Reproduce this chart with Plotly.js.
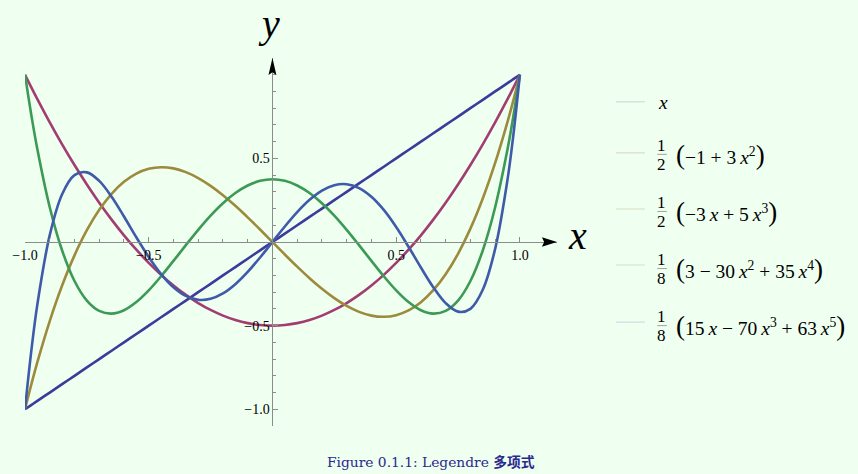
<!DOCTYPE html>
<html>
<head>
<meta charset="utf-8">
<script src="https://cdn.plot.ly/plotly-3.0.1.min.js"></script>
<style>html,body{margin:0;padding:0;background:#effff0;}#chart{width:858px;height:474px;}</style>
</head>
<body>
<div id="chart"></div>
<script>
// ---- data ----
var xs = [-1,-0.975,-0.95,-0.9,-0.85,-0.8,-0.75,-0.7,-0.65,-0.6,-0.55,-0.5,-0.45,-0.4,-0.35,-0.3,-0.25,-0.2,-0.15,-0.1,-0.05,0,0.05,0.1,0.15,0.2,0.25,0.3,0.35,0.4,0.45,0.5,0.55,0.6,0.65,0.7,0.75,0.8,0.85,0.9,0.95,0.975,1];
var p1 = [-1,-0.975,-0.95,-0.9,-0.85,-0.8,-0.75,-0.7,-0.65,-0.6,-0.55,-0.5,-0.45,-0.4,-0.35,-0.3,-0.25,-0.2,-0.15,-0.1,-0.05,0,0.05,0.1,0.15,0.2,0.25,0.3,0.35,0.4,0.45,0.5,0.55,0.6,0.65,0.7,0.75,0.8,0.85,0.9,0.95,0.975,1];
var p2 = [1,0.9259,0.8538,0.715,0.5838,0.46,0.3438,0.235,0.1338,0.04,-0.0463,-0.125,-0.1963,-0.26,-0.3163,-0.365,-0.4063,-0.44,-0.4663,-0.485,-0.4963,-0.5,-0.4963,-0.485,-0.4663,-0.44,-0.4063,-0.365,-0.3163,-0.26,-0.1963,-0.125,-0.0463,0.04,0.1338,0.235,0.3438,0.46,0.5838,0.715,0.8538,0.9259,1];
var p3 = [-1,-0.8547,-0.7184,-0.4725,-0.2603,-0.08,0.0703,0.1925,0.2884,0.36,0.4091,0.4375,0.4472,0.44,0.4178,0.3825,0.3359,0.28,0.2166,0.1475,0.0747,0,-0.0747,-0.1475,-0.2166,-0.28,-0.3359,-0.3825,-0.4178,-0.44,-0.4472,-0.4375,-0.4091,-0.36,-0.2884,-0.1925,-0.0703,0.08,0.2603,0.4725,0.7184,0.8547,1];
var p4 = [1,0.764,0.5541,0.2079,-0.0506,-0.233,-0.3501,-0.4121,-0.4284,-0.408,-0.359,-0.2891,-0.205,-0.113,-0.0187,0.0729,0.1577,0.232,0.2928,0.3379,0.3657,0.375,0.3657,0.3379,0.2928,0.232,0.1577,0.0729,-0.0187,-0.113,-0.205,-0.2891,-0.359,-0.408,-0.4284,-0.4121,-0.3501,-0.233,-0.0506,0.2079,0.5541,0.764,1];
var p5 = [-1,-0.6568,-0.3727,0.0411,0.2857,0.3995,0.4164,0.3652,0.2705,0.1526,0.0282,-0.0898,-0.1917,-0.2706,-0.3225,-0.3454,-0.3397,-0.3075,-0.2523,-0.1788,-0.0927,0,0.0927,0.1788,0.2523,0.3075,0.3397,0.3454,0.3225,0.2706,0.1917,0.0898,-0.0282,-0.1526,-0.2705,-0.3652,-0.4164,-0.3995,-0.2857,-0.0411,0.3727,0.6568,1];
var series = [p1, p2, p3, p4, p5];
var colors = ['#3b3b9b', '#a23d72', '#9c8b3c', '#3c9a56', '#3e5aa8'];
var swatchColors = ['#d9e2da', '#dfe0d4', '#e0e8cf', '#d5ecdb', '#d6e2e4'];
var fracDen = [null, '2', '2', '8', '8'];
var legendTexts = [
  '<i>x</i>',
  '(−1 + 3\u2009<i>x</i><sup>2</sup>)',
  '(−3\u2009<i>x</i> + 5\u2009<i>x</i><sup>3</sup>)',
  '(3 − 30\u2009<i>x</i><sup>2</sup> + 35\u2009<i>x</i><sup>4</sup>)',
  '(15\u2009<i>x</i> − 70\u2009<i>x</i><sup>3</sup> + 63\u2009<i>x</i><sup>5</sup>)'
];
var xTickVals = [-1, -0.5, 0.5, 1];
var xTickText = ['−1.0', '−0.5', '0.5', '1.0'];
var yTickVals = [-1, -0.5, 0.5];
var yTickText = ['−1.0', '−0.5', '0.5'];
var caption = 'Figure 0.1.1: Legendre <span style="font-family:\'Noto Sans CJK SC\';font-weight:bold">多项式</span>';

// ---- geometry ----
var W = 858, H = 474;
var L = 25, R = 557.125, T = 58.3, B = 425.7;
var XR = [-1, 1.15], YR = [-1.1, 1.1];
function PX(px) { return (px - L) / (R - L); }
function PY(py) { return (B - py) / (B - T); }
var serif = '"Liberation Serif", serif';

var traces = series.map(function (s, i) {
  return {x: xs, y: s, type: 'scatter', mode: 'lines', cliponaxis: false,
    line: {color: colors[i], width: 2.6, shape: 'spline', smoothing: 1},
    hoverinfo: 'skip', showlegend: false};
});

function ann(text, px, py, size, extra) {
  var a = {text: text, x: PX(px), y: PY(py), xref: 'paper', yref: 'paper', showarrow: false,
    xanchor: 'center', yanchor: 'middle', font: {family: serif, size: size, color: '#000'}};
  return Object.assign(a, extra || {});
}

var annotations = [
  ann('<i>y</i>', 269, 24, 40),
  ann('<i>x</i>', 578, 236, 40),
  ann(caption, 431, 461, 14, {font: {family: '"DejaVu Serif", serif', size: 13.8, color: '#2a2a8e'}})
];
var shapes = [
  // arrowheads of the axes
  {type: 'path', xref: 'x', yref: 'y', path: 'M 1.15 0 L 1.089 0.028 L 1.098 0 L 1.089 -0.028 Z',
   fillcolor: '#000', line: {width: 0}},
  {type: 'path', xref: 'x', yref: 'y', path: 'M 0 1.1 L 0.016 0.998 L 0 1.015 L -0.016 0.998 Z',
   fillcolor: '#000', line: {width: 0}}
];
var rowCenters = [103, 155, 212, 269, 326];
var swatchY = [102, 153, 209, 265, 322];
legendTexts.forEach(function (t, i) {
  var cy = rowCenters[i];
  shapes.push({type: 'line', xref: 'paper', yref: 'paper', x0: PX(616), x1: PX(645), y0: PY(swatchY[i]), y1: PY(swatchY[i]),
    line: {color: swatchColors[i], width: 1.5}});
  if (fracDen[i]) {
    annotations.push(ann('1', 662, cy - 9.5, 17));
    annotations.push(ann(fracDen[i], 662, cy + 9.5, 17));
    shapes.push({type: 'line', xref: 'paper', yref: 'paper', x0: PX(657.5), x1: PX(667), y0: PY(cy - 0.5), y1: PY(cy - 0.5),
      line: {color: '#8a8a8a', width: 0.8}});
    var txt = t.replace(/^\(/, '<span style="font-size:27px">(</span>').replace(/\)$/, '<span style="font-size:27px">)</span>');
    annotations.push(ann(txt, 674, cy, 19.5, {xanchor: 'left'}));
  } else {
    annotations.push(ann(t, 656, cy, 19.5, {xanchor: 'left'}));
  }
});

var axisCommon = {showgrid: false, zeroline: false, showline: true, linecolor: '#8c8c8c', linewidth: 1,
  ticks: 'inside', tickcolor: '#8c8c8c', ticklen: 5, tickwidth: 1, tickmode: 'array',
  tickfont: {family: serif, size: 14, color: '#000'}, anchor: 'free', fixedrange: true,
  minor: {ticks: 'inside', tick0: 0, dtick: 0.1, ticklen: 3, tickcolor: '#8c8c8c', tickwidth: 1, showgrid: false}};

var layout = {
  width: W, height: H,
  margin: {l: L, r: W - R, t: T, b: H - B, pad: 0},
  paper_bgcolor: '#effff0', plot_bgcolor: '#effff0',
  xaxis: Object.assign({}, axisCommon, {range: XR, tickvals: xTickVals, ticktext: xTickText,
    position: (0 - YR[0]) / (YR[1] - YR[0])}),
  yaxis: Object.assign({}, axisCommon, {range: YR, tickvals: yTickVals, ticktext: yTickText,
    position: (0 - XR[0]) / (XR[1] - XR[0])}),
  annotations: annotations,
  shapes: shapes,
  showlegend: false
};
Plotly.newPlot('chart', traces, layout, {displayModeBar: false, staticPlot: true});
</script>
</body>
</html>
